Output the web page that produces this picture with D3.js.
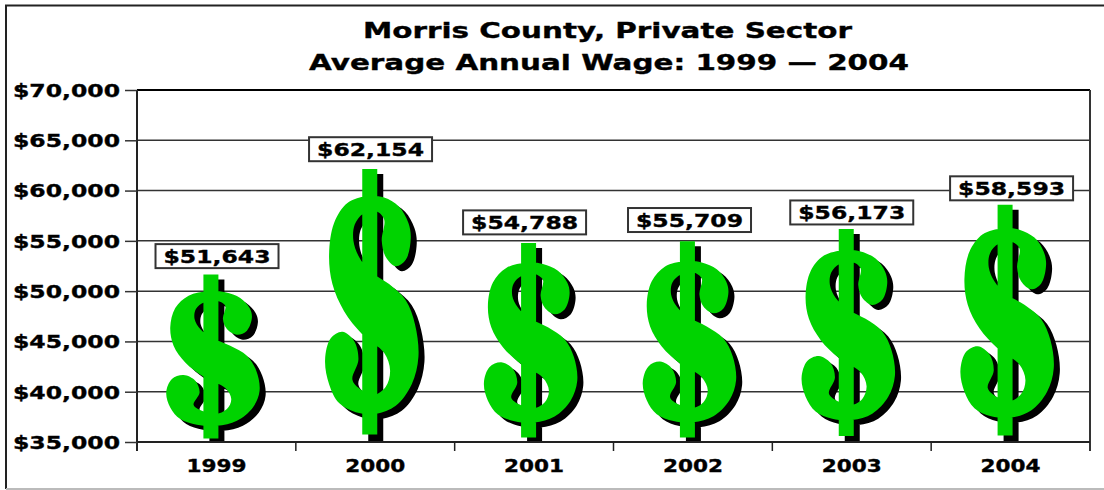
<!DOCTYPE html>
<html><head><meta charset="utf-8">
<script src="https://cdnjs.cloudflare.com/ajax/libs/d3/7.8.5/d3.min.js"></script>
<style>html,body{margin:0;padding:0;background:#fff}svg{display:block}
text{font-family:"DejaVu Sans",sans-serif;font-weight:bold;fill:#000;stroke:#000;stroke-width:0.35px}</style>
</head><body><svg id="c" width="1104" height="490"></svg>
<script>
const years = ["1999","2000","2001","2002","2003","2004"];
const wages = [51643,62154,54788,55709,56173,58593];
// top and foot of each drawn dollar sign
const signTops = [51643,62154,54788,54950,56173,58593];
const signFoots = [35350,35750,35450,35450,35600,35650];
const yTicks = [35000,40000,45000,50000,55000,60000,65000,70000];
const titleLines = ["Morris County, Private Sector","Average Annual Wage: 1999 — 2004"];

// label box nudges relative to the point (dx, dy in px)
const nudgeX = [0.6,-4.7,-9.5,-3.4,0,1];
const nudgeY = [-18.5,-19.7,-20.6,-13.7,-16.6,-16.4];
// outline of the S, traced on a reference sign
const outline = [[365,200],[358,172],[330,142],[285,125],[235,122],[175,135],[135,172],[120,230],[130,285],[165,335],[220,378],[285,412],[303,445],[290,475],[255,490],[215,480],[190,462],[208,425],[195,390],[160,373],[125,385],[108,425],[120,470],[150,505],[200,522],[260,525],[320,510],[368,470],[388,420],[378,360],[350,315],[300,285],[245,262],[210,235],[193,205],[197,175],[222,155],[260,150],[285,165],[278,205],[290,235],[320,252],[350,240]];

const svg = d3.select("#c");
const L=137,R=1090,T=90,B=442;
const x = d3.scaleBand().domain(years).range([L,R]);
const y = d3.scaleLinear().domain([35000,70000]).range([B,T]);

// outer frame
svg.append("path").attr("d","M1104,5.5H6V489").attr("fill","none").attr("stroke","#222").attr("stroke-width",2);
svg.append("line").attr("x1",6).attr("x2",1104).attr("y1",489).attr("y2",489).attr("stroke","#bbb").attr("stroke-width",2);

// gridlines
svg.append("g").selectAll("line").data(yTicks).join("line")
  .attr("x1",L).attr("x2",R).attr("y1",d=>y(d)).attr("y2",d=>y(d))
  .attr("stroke",d=>d===70000?"#000":"#333").attr("stroke-width",d=>d===70000?2:1.5);
svg.append("line").attr("x1",R).attr("x2",R).attr("y1",T).attr("y2",B+9).attr("stroke","#333").attr("stroke-width",2);

svg.append("clipPath").attr("id","plot").append("rect").attr("x",L).attr("y",T).attr("width",R-L).attr("height",B-T-1);

const signShift=-5.5, barW=15;
function signPath(i, footExtra){
  const top=y(signTops[i]), foot=y(signFoots[i]), cx=x(years[i])+x.bandwidth()/2+signShift;
  const line=d3.line().curve(d3.curveCatmullRomClosed.alpha(0.5))
    .x(p=>cx+(p[0]-242)/3).y(p=>top+(p[1]-72)/491*(foot-top));
  return line(outline)+`M${cx-barW/2},${top}V${foot+footExtra}H${cx+barW/2}V${top}Z`;
}
const marks=svg.append("g").attr("clip-path","url(#plot)");
marks.selectAll("path.shadow").data(years).join("path").attr("class","shadow")
  .attr("d",(d,i)=>signPath(i,6)).attr("transform","translate(6,5)").attr("fill","#000").attr("fill-rule","nonzero");
marks.selectAll("path.sign").data(years).join("path").attr("class","sign")
  .attr("d",(d,i)=>signPath(i,0)).attr("fill","#00d300").attr("fill-rule","nonzero");

// y axis
const yAxis=svg.append("g").attr("transform",`translate(${L},0)`)
  .call(d3.axisLeft(y).tickValues(yTicks).tickFormat(d3.format("$,")).tickSize(12).tickPadding(5));
yAxis.select(".domain").attr("stroke","#222").attr("stroke-width",2).attr("d",`M0,${T}V${B+9}`);
yAxis.selectAll(".tick line").attr("stroke","#333").attr("stroke-width",1.5);
yAxis.selectAll("text").style("font-size","17.5px").attr("textLength",107).attr("lengthAdjust","spacingAndGlyphs").attr("dy","0.36em").attr("text-anchor","end");

// x axis
const xAxis=svg.append("g").attr("transform",`translate(0,${B})`)
  .call(d3.axisBottom(x).tickSize(0).tickPadding(17.5));
xAxis.select(".domain").attr("stroke","#222").attr("stroke-width",2).attr("d",`M${L},0H${R}`);
xAxis.selectAll("text").style("font-size","17.5px").attr("textLength",60).attr("lengthAdjust","spacingAndGlyphs");
svg.append("g").selectAll("line").data(years.slice(1)).join("line")
  .attr("x1",d=>x(d)).attr("x2",d=>x(d)).attr("y1",B).attr("y2",B+9).attr("stroke","#222").attr("stroke-width",1.5);

// data labels
const boxW=123, boxH=24;
const lab=svg.append("g").selectAll("g").data(wages).join("g")
  .attr("transform",(d,i)=>`translate(${x(years[i])+x.bandwidth()/2+nudgeX[i]},${y(d)+nudgeY[i]})`);
lab.append("rect").attr("x",-boxW/2).attr("y",-boxH/2).attr("width",boxW).attr("height",boxH)
  .attr("fill","#fff").attr("stroke","#333").attr("stroke-width",2);
lab.append("text").text(d=>d3.format("$,")(d)).attr("text-anchor","middle").attr("y",6.5)
  .style("font-size","17.5px").attr("textLength",107).attr("lengthAdjust","spacingAndGlyphs");

// title
const titleX=[607.5,609], titleY=[38,70], titleW=[489,600];
svg.append("g").selectAll("text").data(titleLines).join("text").text(d=>d)
  .attr("x",(d,i)=>titleX[i]).attr("y",(d,i)=>titleY[i]).attr("text-anchor","middle")
  .style("font-size","22px").attr("textLength",(d,i)=>titleW[i]).attr("lengthAdjust","spacingAndGlyphs");
</script></body></html>
